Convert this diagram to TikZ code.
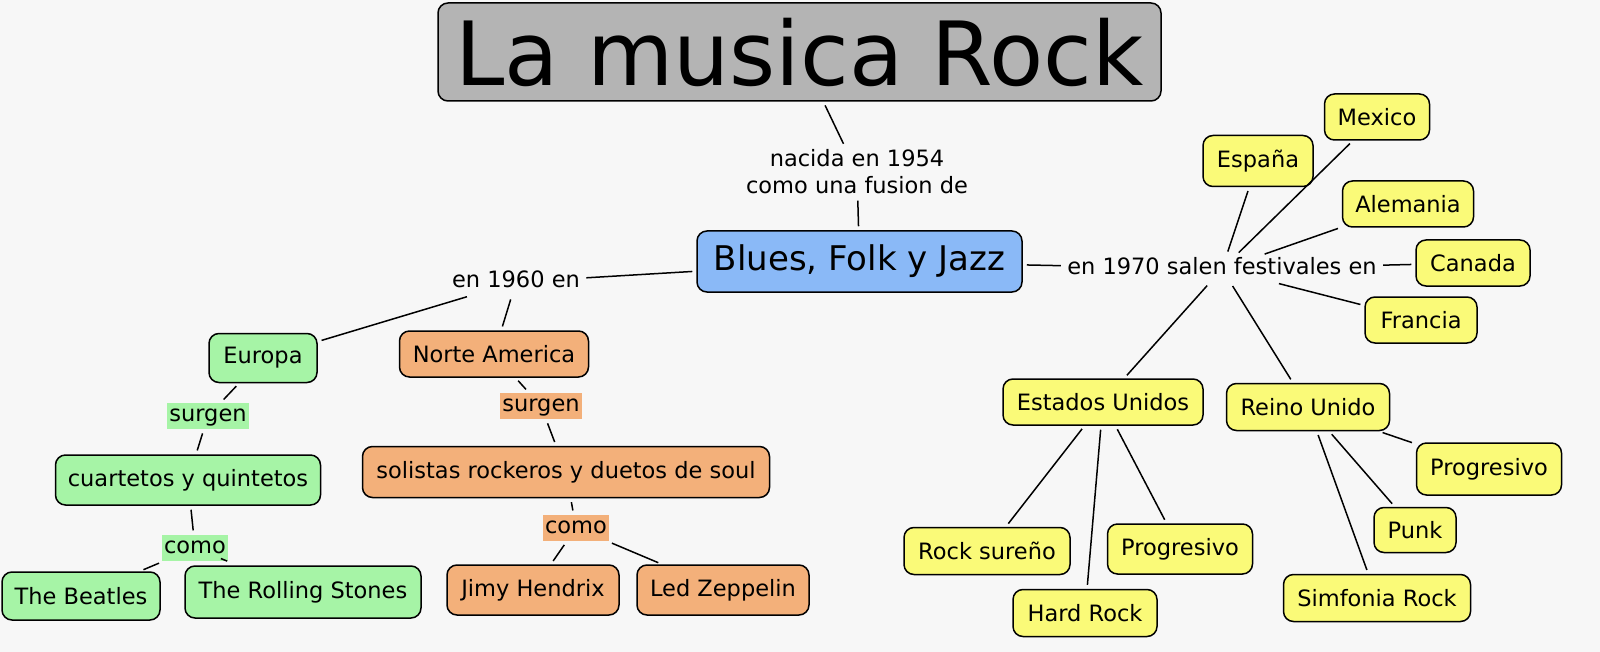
\documentclass[tikz,border=0pt]{standalone}
\usepackage{fontspec}
\setmainfont{DejaVu Sans}
\definecolor{bgc}{RGB}{247,247,247}
\definecolor{cgreen}{RGB}{166,244,166}
\definecolor{corange}{RGB}{243,176,122}
\definecolor{cyellow}{RGB}{250,250,120}
\definecolor{cblue}{RGB}{138,185,247}
\definecolor{cgray}{RGB}{180,180,180}
\newcommand\fsn{\fontsize{11.25pt}{13.5pt}\selectfont}
\newcommand\fsb{\fontsize{17pt}{20pt}\selectfont}
\newcommand\fst{\fontsize{44.3pt}{50pt}\selectfont}
\tikzset{
  sz/.style 2 args={minimum width=#1*0.5pt, minimum height=#2*0.5pt},
  box/.style={draw=black, line width=0.75pt, rounded corners=5pt, inner sep=0pt, font=\fsn},
  gbox/.style={box, fill=cgreen},
  obox/.style={box, fill=corange},
  ybox/.style={box, fill=cyellow},
  lab/.style={inner sep=1pt, font=\fsn, text height=8.5pt, text depth=2.7pt},
  conn/.style={line width=0.75pt, shorten <=2pt, shorten >=2pt},
}
\begin{document}
\begin{tikzpicture}[x=0.5pt, y=-0.5pt]
\fill[bgc] (0,0) rectangle (1600,652);
\useasboundingbox (0,0) rectangle (1600,652);
% main nodes
\node[box, fill=cgray, sz={723}{98}, font=\fst] (title) at (799.5,52) {La musica Rock};
\node[box, fill=cblue, sz={325}{61}, font=\fsb] (blues) at (859.5,261.5) {Blues, Folk y Jazz};
\node[inner sep=1pt, font=\fsn, align=center] (lnac) at (857,172) {nacida en 1954\\como una fusion de};
\node[lab] (l1960) at (516,282) {en 1960 en};
\node[lab] (lfest) at (1222,269) {en 1970 salen festivales en};
% left branch
\node[gbox, sz={108}{49}] (europa) at (263,358) {Europa};
\node[obox, sz={189}{46}] (norte) at (494,354) {Norte America};
\node[lab, fill=cgreen] (sg1) at (208,416) {surgen};
\node[lab, fill=corange] (sg2) at (541,406) {surgen};
\node[gbox, sz={265}{50}] (cuart) at (188,480) {cuartetos y quintetos};
\node[obox, sz={407}{51}] (solis) at (566,472) {solistas rockeros y duetos de soul};
\node[lab, fill=cgreen] (como1) at (195,548) {como};
\node[lab, fill=corange] (como2) at (576,528) {como};
\node[gbox, sz={158}{48}] (beatles) at (81,596) {The Beatles};
\node[gbox, sz={236}{52}] (rolling) at (303,592) {The Rolling Stones};
\node[obox, sz={172}{50}] (jimy) at (533,590) {Jimy Hendrix};
\node[obox, sz={172}{50}] (led) at (723,590) {Led Zeppelin};
% right branch
\node[ybox, sz={114}{46}] (canada) at (1473,263) {Canada};
\node[ybox, sz={110}{51}] (espana) at (1258,161) {España};
\node[ybox, sz={105}{46}] (mexico) at (1377,117) {Mexico};
\node[ybox, sz={131}{46}] (alemania) at (1408,204) {Alemania};
\node[ybox, sz={112}{46}] (francia) at (1421,320) {Francia};
\node[ybox, sz={200}{46}] (eeuu) at (1103,402) {Estados Unidos};
\node[ybox, sz={163}{47}] (reino) at (1308,407) {Reino Unido};
\node[ybox, sz={166}{47}] (rsur) at (987,551) {Rock sureño};
\node[ybox, sz={144}{47}] (hard) at (1085,613) {Hard Rock};
\node[ybox, sz={145}{50}] (prog1) at (1180,549) {Progresivo};
\node[ybox, sz={145}{52}] (prog2) at (1489,469) {Progresivo};
\node[ybox, sz={82}{45}] (punk) at (1415,530) {Punk};
\node[ybox, sz={187}{47}] (simf) at (1377,598) {Simfonia Rock};
% connectors
\draw[conn] (title) -- (lnac);
\draw[conn] (lnac) -- (blues);
\draw[conn] (blues) -- (l1960);
\draw[conn] (l1960) -- (europa);
\draw[conn] (l1960) -- (norte);
\draw[conn] (europa) -- (sg1);
\draw[conn] (sg1) -- (cuart);
\draw[conn] (cuart) -- (como1);
\draw[conn] (como1) -- (beatles);
\draw[conn, shorten <=4pt, shorten >=5.5pt] (como1) -- (rolling);
\draw[conn] (norte) -- (sg2);
\draw[conn] (sg2) -- (solis);
\draw[conn] (solis) -- (como2);
\draw[conn] (como2) -- (jimy);
\draw[conn] (como2) -- (led);
\draw[conn] (blues) -- (lfest);
\draw[conn] (lfest) -- (canada);
\draw[conn] (lfest) -- (espana);
\draw[conn] (lfest) -- (mexico);
\draw[conn] (lfest) -- (alemania);
\draw[conn] (lfest) -- (francia);
\draw[conn] (lfest) -- (eeuu);
\draw[conn] (lfest) -- (reino);
\draw[conn] (eeuu) -- (rsur);
\draw[conn] (eeuu) -- (hard);
\draw[conn] (eeuu) -- (prog1);
\draw[conn] (reino) -- (prog2);
\draw[conn] (reino) -- (punk);
\draw[conn] (reino) -- (simf);
\end{tikzpicture}
\end{document}
